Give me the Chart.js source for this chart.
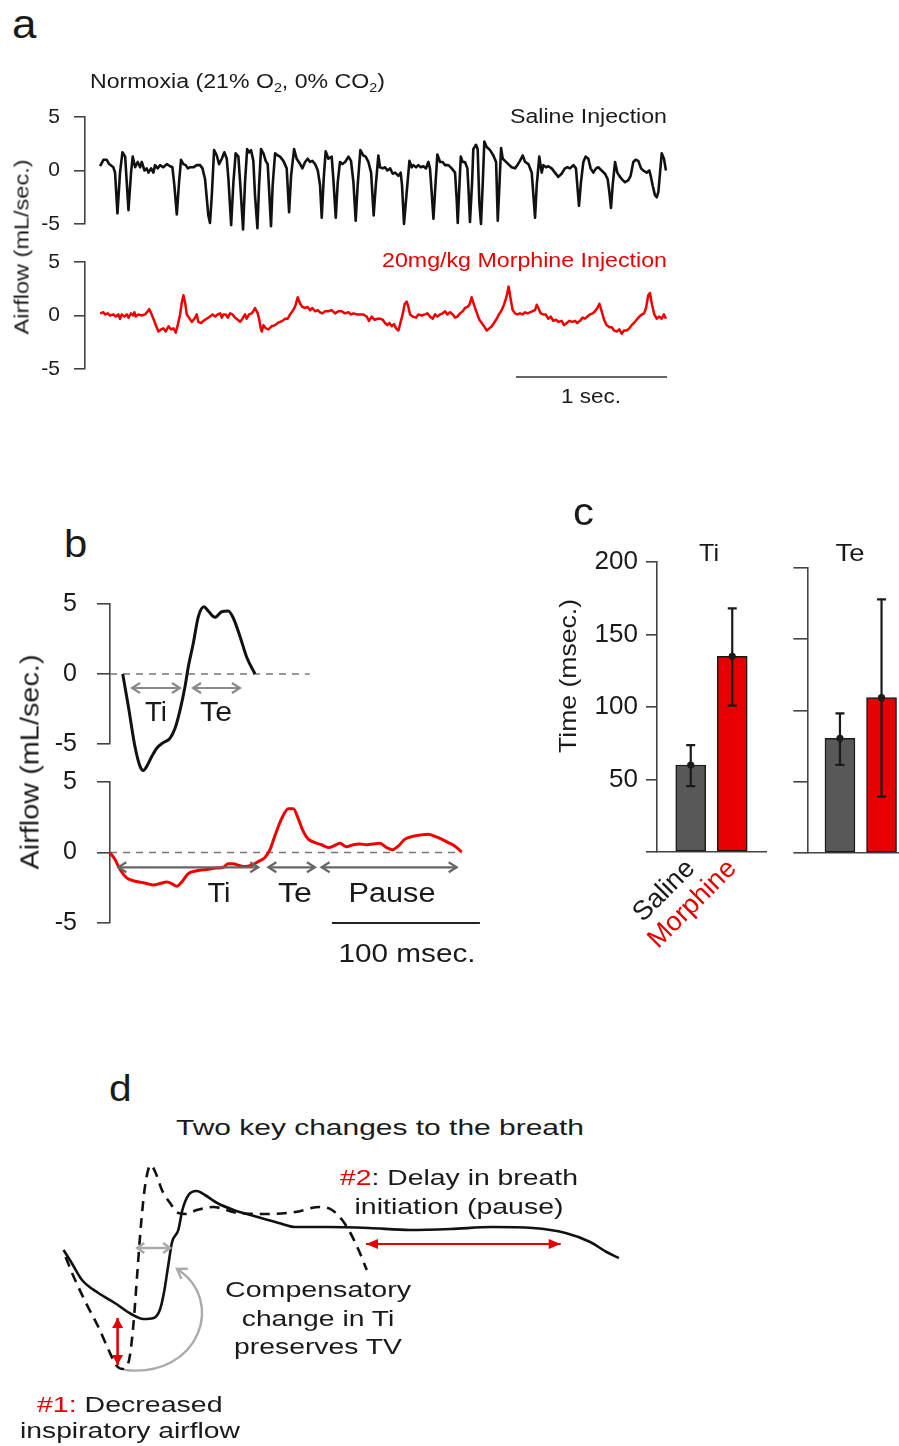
<!DOCTYPE html>
<html><head><meta charset="utf-8">
<script src="https://cdn.jsdelivr.net/npm/chart.js@4.4.1/dist/chart.umd.min.js"></script>
<style>
html,body{margin:0;padding:0;background:#fff;}
body{width:899px;height:1446px;position:relative;overflow:hidden;font-family:'Liberation Sans',Arial,Helvetica,sans-serif;}
canvas{position:absolute;}
.t{position:absolute;white-space:nowrap;line-height:1;font-family:'Liberation Sans',Arial,Helvetica,sans-serif;}
.sub{font-size:0.62em;vertical-align:-0.28em;line-height:0;}
</style></head><body>
<script>
// ---------------- DATA ----------------
// Panel a: saline trace (time in s, airflow in mL/s)
const timeSalineA = [
0,0.022,0.044,0.060,0.088,0.099,0.115,0.132,0.148,0.166,
0.188,0.205,0.216,0.232,0.249,0.265,0.276,0.294,0.309,0.320,
0.338,0.353,0.364,0.382,0.397,0.419,0.442,0.464,0.479,0.492,
0.508,0.523,0.536,0.552,0.567,0.581,0.596,0.618,0.640,0.662,
0.678,0.695,0.717,0.728,0.740,0.755,0.773,0.788,0.806,0.823,
0.839,0.850,0.868,0.883,0.898,0.916,0.929,0.947,0.960,0.974,
0.987,1.000,1.015,1.026,1.042,1.053,1.066,1.082,1.097,1.110,
1.119,1.132,1.143,1.159,1.177,1.192,1.214,1.236,1.252,1.265,
1.285,1.302,1.325,1.340,1.358,1.375,1.391,1.406,1.424,1.442,
1.457,1.468,1.481,1.494,1.512,1.534,1.545,1.561,1.574,1.589,
1.605,1.623,1.645,1.662,1.678,1.693,1.706,1.724,1.744,1.759,
1.777,1.795,1.812,1.826,1.843,1.854,1.872,1.887,1.903,1.921,
1.938,1.954,1.976,1.991,2.000,2.013,2.031,2.049,2.064,2.075,
2.093,2.108,2.124,2.141,2.159,2.174,2.185,2.196,2.208,2.221,
2.234,2.252,2.269,2.285,2.307,2.329,2.351,2.362,2.369,2.380,
2.389,2.402,2.417,2.433,2.442,2.450,2.464,2.472,2.490,2.501,
2.512,2.523,2.534,2.545,2.561,2.583,2.605,2.623,2.634,2.645,
2.656,2.667,2.682,2.704,2.726,2.748,2.764,2.781,2.799,2.815,
2.837,2.859,2.870,2.881,2.892,2.909,2.925,2.936,2.954,2.969,
2.991,3.013,3.035,3.057,3.079,3.095,3.113,3.135,3.152,3.161,
3.172,3.185,3.201,3.216,3.234,3.249,3.267,3.285,3.300,3.322,
3.344,3.362,3.373,3.384,3.395,3.411,3.426,3.439,3.455,3.477,
3.499,3.514,3.532,3.547,3.565,3.583,3.598,3.620,3.638,3.647,
3.660,3.675,3.687,3.698,3.709,3.720,3.735,3.748];
const flowSalineA = [
0.4,1.0,1.0,0.6,0.3,-0.2,-4.0,-0.2,1.7,1.3,
-3.7,-0.2,1.3,0.3,0.8,0.3,0.8,0,0.2,-0.2,
0.2,-0.2,0.5,0.2,0.5,0.3,0.6,0.4,0.3,-1.4,
-4.1,-1.1,1.0,0.6,0.5,0.2,0.3,0.3,0.5,0.5,
0.2,-0.8,-4.2,-4.9,-2.3,1.9,1.4,0.6,1.1,1.7,
1.1,-0.8,-5.1,-1.1,1.6,1.3,-1.4,-5.5,-1.1,2.0,
1.7,1.9,0.9,-2.3,-5.4,-1.4,2.0,1.6,0.9,0.6,
-1.7,-5.2,-1.4,1.6,1.4,1.3,0.9,0.2,-3.9,-0.5,
2.0,1.1,0.6,0.2,0.8,1.1,0.8,0.9,0.6,0,
-1.4,-4.4,-0.8,1.8,1.1,1.3,-0.8,-4.4,-1.1,0.8,
0.6,0.8,1.3,0.9,-1.1,-4.7,-1.4,1.9,1.4,1.3,
0.8,-0.2,-4.2,-1.4,1.4,0.3,0.2,0.3,0,0.2,
-0.3,-0.2,-0.5,-0.2,-1.4,-5.0,-2.0,0.9,0.3,0.5,
0.3,0.5,0.3,0.4,0.2,0.8,0.2,-2.0,-4.5,-1.4,
1.5,0.8,0.8,0.5,0.5,0.2,-0.2,-2.7,-4.9,-1.4,
1.3,0.8,0.8,0.2,-2.3,-4.8,-1.1,2.0,2.4,2.0,
-3.0,-5.0,-1.4,2.7,2.2,1.9,1.4,0.8,-4.7,-1.4,
2.1,1.1,0.9,0.6,0.3,0.2,0.5,0.9,1.4,0.8,
0.6,-0.2,-2.3,-4.4,-1.4,1.3,-0.2,0.5,0.3,0.4,
0.2,-0.2,-0.6,-0.3,0.2,0.3,0.2,0.5,0.2,-1.4,
-3.3,-1.1,0.8,1.3,1.1,0.2,-0.2,0.2,0.3,0,
-0.3,-0.8,-2.0,-3.5,-1.4,0.8,-0.2,-0.5,-0.8,-1.1,
-0.9,-0.5,0.8,1.0,0.9,0.2,0,-0.2,0,-0.5,
-1.4,-2.3,-2.5,-2.0,-0.2,1.6,1.1,0];

// Panel a: morphine trace
const timeMorphA = [
0,0.022,0.033,0.051,0.066,0.088,0.104,0.121,0.132,0.143,
0.161,0.177,0.188,0.205,0.221,0.227,0.236,0.254,0.276,0.298,
0.316,0.325,0.338,0.353,0.369,0.386,0.404,0.419,0.435,0.453,
0.470,0.486,0.501,0.514,0.530,0.541,0.552,0.563,0.574,0.589,
0.607,0.625,0.640,0.651,0.669,0.684,0.706,0.728,0.744,0.762,
0.779,0.795,0.806,0.817,0.832,0.846,0.861,0.876,0.894,0.912,
0.927,0.943,0.960,0.971,0.987,1.004,1.015,1.026,1.044,1.053,
1.064,1.071,1.082,1.097,1.115,1.137,1.159,1.177,1.192,1.208,
1.225,1.243,1.258,1.274,1.291,1.309,1.325,1.340,1.358,1.375,
1.391,1.406,1.424,1.442,1.457,1.472,1.490,1.512,1.534,1.556,
1.578,1.600,1.623,1.645,1.662,1.678,1.700,1.722,1.744,1.766,
1.781,1.799,1.817,1.839,1.854,1.872,1.887,1.903,1.916,1.932,
1.947,1.960,1.976,1.991,2.004,2.018,2.031,2.042,2.053,2.071,
2.093,2.108,2.130,2.152,2.168,2.185,2.203,2.219,2.234,2.252,
2.269,2.285,2.300,2.318,2.336,2.351,2.366,2.384,2.402,2.417,
2.433,2.446,2.461,2.477,2.494,2.512,2.528,2.543,2.561,2.578,
2.594,2.609,2.627,2.642,2.660,2.675,2.693,2.706,2.720,2.733,
2.748,2.764,2.781,2.799,2.815,2.830,2.848,2.865,2.881,2.892,
2.903,2.918,2.936,2.951,2.969,2.985,3.002,3.020,3.035,3.057,
3.073,3.091,3.108,3.130,3.146,3.161,3.179,3.196,3.212,3.227,
3.245,3.263,3.278,3.294,3.307,3.322,3.338,3.355,3.373,3.389,
3.404,3.422,3.439,3.455,3.470,3.488,3.506,3.521,3.536,3.554,
3.572,3.589,3.603,3.616,3.631,3.642,3.656,3.671,3.687,3.704,
3.720,3.735,3.748];
const flowMorphA = [
0.2,0.3,0.1,0.2,0.0,0.1,-0.1,0.1,-0.3,0.1,
-0.1,0.1,-0.2,0.2,0.0,0.3,-0.1,0.1,0.0,0.1,
0.4,0.6,0.2,-0.3,-0.9,-1.5,-1.3,-1.2,-1.5,-1.0,
-1.3,-1.2,-1.6,-0.9,0.1,1.2,1.9,1.2,0.1,-0.2,
-0.6,-0.3,0.1,-0.6,-0.7,-0.5,-0.3,-0.1,0.1,-0.1,
0.1,0.2,-0.2,0.1,0.1,-0.2,0.2,0.1,-0.2,-0.4,
-0.6,-0.3,0.1,-0.3,0.1,0.2,0.4,0.7,0.2,-0.3,
-1.2,-1.5,-0.9,-1.2,-1.3,-1.0,-0.9,-0.7,-0.6,-0.5,
-0.3,-0.3,0.1,0.4,0.8,1.7,1.1,0.8,0.7,0.8,
0.5,0.7,0.4,0.5,0.3,0.2,0.4,0.4,0.5,0.2,
0.4,0.4,0.2,0.3,0.1,0.2,0.1,0.1,0.1,-0.1,
-0.5,-0.1,-0.4,-0.3,-0.3,-0.4,-0.7,-0.9,-0.7,-1.0,
-0.8,-1.2,-1.4,-0.6,0.1,1.1,1.3,0.8,0.1,-0.1,
-0.2,0.1,0.0,0.1,0.2,-0.1,-0.3,0.1,-0.1,0.1,
0.2,0.4,0.1,0.3,0.1,-0.2,-0.1,0.2,0.4,0.7,
0.8,1.0,1.7,1.0,0.3,-0.4,-0.7,-1.0,-1.4,-1.2,
-1.0,-0.7,-0.3,0.1,0.5,1.0,1.8,2.7,1.5,0.5,
0.2,0.1,0.2,0.1,0.3,0.2,0.3,0.4,0.5,1.0,
0.7,0.2,0.1,0.1,-0.3,-0.1,-0.5,-0.4,-0.6,-0.5,
-0.9,-0.7,-0.5,-0.6,-0.5,-0.7,-0.5,-0.2,-0.3,-0.1,
0.1,0.2,0.4,0.7,1.1,0.4,-0.4,-0.9,-1.1,-1.1,
-1.4,-1.5,-1.3,-1.7,-1.4,-1.4,-1.2,-0.9,-0.7,-0.4,
-0.1,0.1,0.2,0.7,1.9,2.1,1.0,0.1,-0.3,-0.1,
-0.3,0.1,-0.3];
const yTicksA = [-5, 0, 5];
const scaleBarA = [2.755, 3.755];   // 1 sec.

// Panel b: single breaths (time in ms, airflow in mL/s)
const timeSalineB = [8.6,12.4,16.9,20.3,22.5,24.8,28.2,31.6,36.0,40.5,43.9,47.3,50.7,52.9,56.3,59.7,63.5,66.4,70.9,75.5,79.9,83.3,87.8,92.4,98.0];
const flowSalineB = [0,-2.3,-5.2,-6.6,-6.9,-6.6,-5.9,-5.3,-4.9,-4.6,-3.9,-2.6,-0.9,0.5,2.2,4.1,4.8,4.5,4.05,4.45,4.5,4.0,2.7,1.2,0.0];
const timeMorphB = [0,3.4,6.8,11.3,15.7,20.3,24.8,29.3,33.8,38.3,41.7,45.1,48.4,52.9,58.6,65.3,72.1,76.6,79.9,83.3,86.7,91.2,95.7,100.2,104.7,108.1,111.5,116.0,120.5,123.9,127.2,130.6,134.0,138.5,143.0,147.5,150.9,155.4,159.9,164.4,168.9,173.4,177.9,182.4,186.9,191.0,194.8,199.3,204.9,210.6,215.1,219.6,224.1,228.6,233.1,237.6];
const flowMorphB = [0,-0.5,-1.2,-1.8,-2.0,-2.1,-2.2,-2.3,-2.2,-2.1,-2.2,-2.4,-2.1,-1.5,-1.3,-1.2,-1.1,-1.05,-0.8,-0.8,-0.9,-1.0,-0.9,-0.65,-0.35,0.2,1.2,2.4,3.1,3.1,2.4,1.5,0.95,0.7,0.55,0.35,0.45,0.65,0.4,0.55,0.6,0.55,0.6,0.65,0.35,0.2,0.45,0.95,1.15,1.25,1.3,1.15,0.95,0.7,0.45,0.05];
const zeroSpanSalineB = [0, 135];
const zeroSpanMorphB = [0, 237.8];
const phasesSalineB = [[14.9, 47.3], [56.1, 87.8]];              // Ti, Te
const phasesMorphB = [[5.6, 100.2], [107.0, 138.5], [143.0, 234.3]]; // Ti, Te, Pause
const scaleBarB = [150, 250];  // 100 msec.
const yTicksB = [-5, 0, 5];

// Panel c: Ti and Te (msec.)
const groups = ['Saline', 'Morphine'];
const groupPos = [1, 2];
const tiMean = [60, 135];
const tiLow = [45.5, 101];
const tiHigh = [73.7, 168];
const teMean = [80.5, 109];
const teLow = [61.8, 39.5];
const teHigh = [98, 178];
const yTicksC = [0, 50, 100, 150, 200];

// Panel d: schematic breaths (arbitrary units)
const xNormalD = [65.6,73.8,86,98.4,108.6,116.8,123,129.1,133.2,137.3,141.4,145.5,150.8,155.7,161.9,170.1,178.3,186.5,196.7,213.1,237.7,266.4,295.1,319.7,332,342.2,350.4,358.6,366.8];
const yNormalD = [1.3,-0.7,-3.3,-5.7,-8.0,-9.6,-9.9,-9.0,-5.7,-0.3,5.0,8.7,10.5,9.7,8.0,6.7,5.7,5.6,6.0,6.3,5.7,5.6,5.8,6.3,6.0,5.0,3.7,2.0,0.0];
const xMorphD = [63.5,71.7,82,98.4,114.8,131.1,143.4,153.7,159.8,163.9,168,172.1,178.3,182.4,188.5,196.7,204.9,217.2,233.6,254.1,278.7,295.1,327.9,368.9,409.8,450.8,491.8,532.8,565.6,590.2,606.6,618.9];
const yMorphD = [2.0,0.7,-1.0,-2.3,-3.3,-4.4,-4.9,-4.8,-4.0,-2.3,0.3,2.8,4.0,6.0,7.5,7.9,7.5,6.7,6.0,5.4,4.7,4.3,4.3,4.2,4.0,4.1,4.3,4.2,3.7,2.8,1.8,1.2];

// ---------------- HELPERS ----------------
const RED = '#e60000';
const LINE_RED = '#f00000';
Chart.defaults.font.family = "'Liberation Sans', Arial, Helvetica, sans-serif";
Chart.defaults.color = '#1a1a1a';

function mkCanvas(left, top, w, h) {
  const c = document.createElement('canvas');
  c.width = w; c.height = h;
  c.style.left = left + 'px'; c.style.top = top + 'px';
  c.style.width = w + 'px'; c.style.height = h + 'px';
  document.body.appendChild(c);
  return c;
}
function pts(xs, ys) { return xs.map((x, i) => ({ x: x, y: ys[i] })); }

function yAxis(o) {
  return {
    type: 'linear', position: 'left', min: o.min, max: o.max,
    afterFit: s => { s.width = o.width; },
    afterBuildTicks: s => { s.ticks = o.ticks.map(v => ({ value: v })); },
    grid: { display: true, drawOnChartArea: false, drawTicks: true, tickLength: o.tickLen, color: '#444', lineWidth: 1.6 },
    border: { display: true, color: '#444', width: 1.6 },
    ticks: { padding: o.pad, font: { size: o.size }, color: '#1a1a1a',
      callback: v => (o.hide && o.hide.includes(v)) ? '' : String(v) }
  };
}
function hiddenX(min, max) { return { type: 'linear', display: false, min: min, max: max }; }

function baseOptions(padding, scales) {
  return {
    responsive: false, maintainAspectRatio: false, animation: false, events: [],
    layout: { padding: padding },
    plugins: { legend: { display: false }, tooltip: { enabled: false }, title: { display: false } },
    scales: scales
  };
}

// Arrows / bars drawn in data coordinates through the chart's scales
function arrowPlugin(id, list) {
  return {
    id: id,
    afterDatasetsDraw(chart) {
      const { ctx, scales } = chart;
      const X = scales.x, Y = scales.y;
      list.forEach(a => {
        const p = a.pts.map(q => [X.getPixelForValue(q[0]), Y.getPixelForValue(q[1])]);
        ctx.save();
        ctx.strokeStyle = a.color; ctx.fillStyle = a.color;
        ctx.lineWidth = a.width || 2; ctx.lineCap = 'butt'; ctx.lineJoin = 'miter';
        ctx.beginPath(); ctx.moveTo(p[0][0], p[0][1]);
        if (p.length === 2) ctx.lineTo(p[1][0], p[1][1]);
        else ctx.bezierCurveTo(p[1][0], p[1][1], p[2][0], p[2][1], p[3][0], p[3][1]);
        ctx.stroke();
        const head = (tip, from) => {
          const ang = Math.atan2(tip[1] - from[1], tip[0] - from[0]);
          const L = a.len || 8, W = a.hw || 5;
          const c = Math.cos(ang), s = Math.sin(ang);
          const b1 = [tip[0] - L * c + W * s, tip[1] - L * s - W * c];
          const b2 = [tip[0] - L * c - W * s, tip[1] - L * s + W * c];
          ctx.beginPath(); ctx.moveTo(b1[0], b1[1]); ctx.lineTo(tip[0], tip[1]); ctx.lineTo(b2[0], b2[1]);
          if (a.style === 'tri') { ctx.closePath(); ctx.fill(); } else { ctx.stroke(); }
        };
        if (a.style !== 'none') {
          const n = p.length;
          head(p[n - 1], p[n - 2]);
          if (a.both) head(p[0], p[1]);
        }
        ctx.restore();
      });
    }
  };
}

function errorBarPlugin(xs, lo, hi, mean) {
  return {
    id: 'errbars',
    afterDatasetsDraw(chart) {
      const { ctx, scales } = chart;
      ctx.save();
      ctx.strokeStyle = '#1a1a1a'; ctx.fillStyle = '#1a1a1a'; ctx.lineWidth = 2.2;
      xs.forEach((xv, i) => {
        const px = scales.x.getPixelForValue(xv);
        const pl = scales.y.getPixelForValue(lo[i]), ph = scales.y.getPixelForValue(hi[i]);
        ctx.beginPath();
        ctx.moveTo(px, pl); ctx.lineTo(px, ph);
        ctx.moveTo(px - 4.5, pl); ctx.lineTo(px + 4.5, pl);
        ctx.moveTo(px - 4.5, ph); ctx.lineTo(px + 4.5, ph);
        ctx.stroke();
        ctx.beginPath(); ctx.arc(px, scales.y.getPixelForValue(mean[i]), 3.6, 0, Math.PI * 2); ctx.fill();
      });
      ctx.restore();
    }
  };
}

function addText(html, x, y, o) {
  const d = document.createElement('div');
  d.className = 't';
  d.innerHTML = html;
  d.style.fontSize = o.size + 'px';
  d.style.color = o.color || '#1a1a1a';
  d.style.left = x + 'px'; d.style.top = y + 'px';
  document.body.appendChild(d);
  const nat = d.getBoundingClientRect().width;
  const sx = o.w ? o.w / nat : (o.sx || 1.15);
  const anchor = o.anchor || 'left';
  const tx = anchor === 'left' ? '0%' : anchor === 'center' ? '-50%' : '-100%';
  const ox = anchor === 'left' ? '0%' : anchor === 'center' ? '50%' : '100%';
  d.style.transformOrigin = ox + ' 50%';
  d.style.transform = 'translate(' + tx + ',-50%)' + (o.rot ? ' rotate(-90deg)' : '') + ' scaleX(' + sx + ')';
}

// ---------------- PANEL A ----------------
// chart area: x 85..667, y 117..224 (saline) and 262..369 (morphine)
new Chart(mkCanvas(0, 85, 680, 171), {
  type: 'line',
  data: { datasets: [{ data: pts(timeSalineA, flowSalineA), borderColor: '#111', borderWidth: 2.6,
    pointRadius: 0, tension: 0, clip: false, borderJoinStyle: 'round' }] },
  options: baseOptions({ top: 32, bottom: 32, left: 0, right: 13 }, {
    x: hiddenX(-0.1, 3.755),
    y: yAxis({ min: -5, max: 5, ticks: yTicksA, width: 85, tickLen: 11, pad: 14, size: 21 })
  })
});
new Chart(mkCanvas(0, 230, 680, 185), {
  type: 'line',
  data: { datasets: [{ data: pts(timeMorphA, flowMorphA), borderColor: LINE_RED, borderWidth: 2.5,
    pointRadius: 0, tension: 0, clip: false, borderJoinStyle: 'round' }] },
  options: baseOptions({ top: 32, bottom: 46, left: 0, right: 13 }, {
    x: hiddenX(-0.1, 3.755),
    y: yAxis({ min: -5, max: 5, ticks: yTicksA, width: 85, tickLen: 11, pad: 14, size: 21 })
  }),
  plugins: [arrowPlugin('sbA', [{ pts: [[scaleBarA[0], -5.75], [scaleBarA[1], -5.75]], color: '#333', width: 1.6, style: 'none' }])]
});

// ---------------- PANEL B ----------------
// chart area: x 110..482, y 604..744 (saline) and 782..923 (morphine)
new Chart(mkCanvas(0, 566, 500, 216), {
  type: 'line',
  data: { datasets: [
    { data: pts(timeSalineB, flowSalineB), borderColor: '#111', borderWidth: 3, pointRadius: 0,
      cubicInterpolationMode: 'monotone', clip: false },
    { data: pts(zeroSpanSalineB, [0, 0]), borderColor: '#777', borderWidth: 1.4, borderDash: [7, 6],
      pointRadius: 0, clip: false }
  ] },
  options: baseOptions({ top: 38, bottom: 38, left: 0, right: 18 }, {
    x: hiddenX(0, 251.4),
    y: yAxis({ min: -5, max: 5, ticks: yTicksB, width: 110, tickLen: 13, pad: 20, size: 25 })
  }),
  plugins: [arrowPlugin('arB1', phasesSalineB.map(s => ({ pts: [[s[0], -1.0], [s[1], -1.0]], color: '#8a8a8a', width: 2.2, both: true, len: 8, hw: 5 })))]
});
new Chart(mkCanvas(0, 744, 500, 223), {
  type: 'line',
  data: { datasets: [
    { data: pts(timeMorphB, flowMorphB), borderColor: LINE_RED, borderWidth: 3, pointRadius: 0,
      cubicInterpolationMode: 'monotone', clip: false },
    { data: pts(zeroSpanMorphB, [0, 0]), borderColor: '#777', borderWidth: 1.4, borderDash: [7, 6],
      pointRadius: 0, clip: false }
  ] },
  options: baseOptions({ top: 38, bottom: 44, left: 0, right: 18 }, {
    x: hiddenX(0, 251.4),
    y: yAxis({ min: -5, max: 5, ticks: yTicksB, width: 110, tickLen: 13, pad: 20, size: 25 })
  }),
  plugins: [arrowPlugin('arB2',
    phasesMorphB.map(s => ({ pts: [[s[0], -1.05], [s[1], -1.05]], color: '#666', width: 2.2, both: true, len: 8, hw: 5 }))
    .concat([{ pts: [[scaleBarB[0], -5], [scaleBarB[1], -5]], color: '#222', width: 2.2, style: 'none' }]))]
});

// ---------------- PANEL C ----------------
function barAxisX(min, max, withLabels, h) {
  return {
    type: 'linear', min: min, max: max, offset: false,
    afterFit: s => { s.height = h; },
    afterBuildTicks: s => { s.ticks = withLabels ? groupPos.map(v => ({ value: v })) : []; },
    grid: { display: false, offset: false },
    border: { display: true, color: '#444', width: 1.6 },
    ticks: { autoSkip: false, maxRotation: 45, minRotation: 45, padding: -7, font: { size: 27 },
      color: c => (c.index === 0 ? '#1a1a1a' : RED),
      callback: v => { const i = groupPos.indexOf(v); return i >= 0 ? groups[i] : ''; } }
  };
}
// chart area: x 656.7..766.7, y 562..852
new Chart(mkCanvas(540, 534, 240, 436), {
  type: 'bar',
  data: { datasets: [{ data: pts(groupPos, tiMean), backgroundColor: ['#585858', RED], borderColor: '#1a1a1a',
    borderWidth: 1.5, borderSkipped: false, barThickness: 30 }] },
  options: baseOptions({ top: 28, bottom: 0, left: 0, right: 13.3 }, {
    x: barAxisX(0.18, 2.83, true, 118),
    y: yAxis({ min: 0, max: 200, ticks: yTicksC, width: 116.7, tickLen: 10.7, pad: 8, size: 26, hide: [0] })
  }),
  plugins: [errorBarPlugin(groupPos, tiLow, tiHigh, tiMean)]
});
// chart area: x 807.7..899, y 568..853
new Chart(mkCanvas(780, 534, 119, 346), {
  type: 'bar',
  data: { datasets: [{ data: pts(groupPos, teMean), backgroundColor: ['#585858', RED], borderColor: '#1a1a1a',
    borderWidth: 1.5, borderSkipped: false, barThickness: 30 }] },
  options: baseOptions({ top: 34, bottom: 0, left: 0, right: 0 }, {
    x: barAxisX(0.224, 2.42, false, 27),
    y: yAxis({ min: 0, max: 200, ticks: yTicksC, width: 27.7, tickLen: 14.3, pad: 4, size: 26, hide: yTicksC })
  }),
  plugins: [errorBarPlugin(groupPos, teLow, teHigh, teMean)]
});

// ---------------- PANEL D ----------------
new Chart(mkCanvas(0, 1140, 640, 260), {
  type: 'line',
  data: { datasets: [
    { data: pts(xMorphD, yMorphD), borderColor: '#111', borderWidth: 2.6, pointRadius: 0,
      cubicInterpolationMode: 'monotone', clip: false },
    { data: pts(xNormalD, yNormalD), borderColor: '#111', borderWidth: 2.6, borderDash: [10, 7], pointRadius: 0,
      cubicInterpolationMode: 'monotone', clip: false }
  ] },
  options: baseOptions({ top: 0, bottom: 0, left: 0, right: 0 }, {
    x: hiddenX(0, 640),
    y: { type: 'linear', display: false, min: -13, max: 13 }
  }),
  plugins: [arrowPlugin('arD', [
    { pts: [[137.3, 2.2], [170.1, 2.2]], color: '#aaaaaa', width: 2.6, both: true, len: 7, hw: 5 },
    { pts: [[117.6, -4.8], [117.6, -9.5]], color: RED, width: 2.6, both: true, style: 'tri', len: 10, hw: 5.5 },
    { pts: [[366, 2.6], [560.7, 2.6]], color: RED, width: 2, both: true, style: 'tri', len: 12, hw: 5 },
    { pts: [[125, -10.0], [200, -10.8], [226, -3.0], [177, 0.1]], color: '#aaaaaa', width: 2.4, len: 9, hw: 6 }
  ])]
});

// ---------------- TEXT ----------------
// panel a
addText('a', 12, 24, { size: 40, sx: 1.1 });
addText('Normoxia (21% O<span class="sub">2</span>, 0% CO<span class="sub">2</span>)', 90, 82, { size: 19.5, w: 295 });
addText('Saline Injection', 667, 116, { size: 20.5, w: 157, anchor: 'right' });
addText('20mg/kg Morphine Injection', 667, 260, { size: 20.5, w: 285, anchor: 'right', color: RED });
addText('1 sec.', 591, 396, { size: 20.5, w: 60, anchor: 'center' });
addText('Airflow (mL/sec.)', 21, 247, { size: 21, w: 175, anchor: 'center', rot: true });
// panel b
addText('b', 64, 544, { size: 38, sx: 1.1 });
addText('Airflow (mL/sec.)', 30, 762, { size: 25, w: 215, anchor: 'center', rot: true });
addText('Ti', 156, 712, { size: 27, w: 22, anchor: 'center' });
addText('Te', 216, 712, { size: 27, w: 32, anchor: 'center' });
addText('Ti', 218.5, 893, { size: 27, w: 23, anchor: 'center' });
addText('Te', 295, 893, { size: 27, w: 34, anchor: 'center' });
addText('Pause', 391.7, 893, { size: 27, w: 87, anchor: 'center' });
addText('100 msec.', 406.7, 953, { size: 26, w: 137, anchor: 'center' });
// panel c
addText('c', 573, 512, { size: 38, sx: 1.1 });
addText('Ti', 708.5, 553, { size: 24, w: 20, anchor: 'center' });
addText('Te', 849.5, 553, { size: 24, w: 29, anchor: 'center' });
addText('Time (msec.)', 568, 676, { size: 24, w: 154, anchor: 'center', rot: true });
// panel d
addText('d', 109, 1088, { size: 37, sx: 1.1 });
addText('Two key changes to the breath', 380, 1128, { size: 22, w: 408, anchor: 'center' });
addText('<span style="color:' + RED + '">#2</span>: Delay in breath', 340, 1178, { size: 22, w: 238 });
addText('initiation (pause)', 459, 1207, { size: 22, w: 209, anchor: 'center' });
addText('Compensatory', 317.6, 1290, { size: 22, w: 186, anchor: 'center' });
addText('change in Ti', 318, 1319, { size: 22, w: 152.5, anchor: 'center' });
addText('preserves TV', 317.6, 1347, { size: 22, w: 168, anchor: 'center' });
addText('<span style="color:' + RED + '">#1:</span> Decreased', 37, 1405, { size: 22, w: 185.6 });
addText('inspiratory airflow', 20, 1431, { size: 22, w: 220 });
</script>
</body></html>
